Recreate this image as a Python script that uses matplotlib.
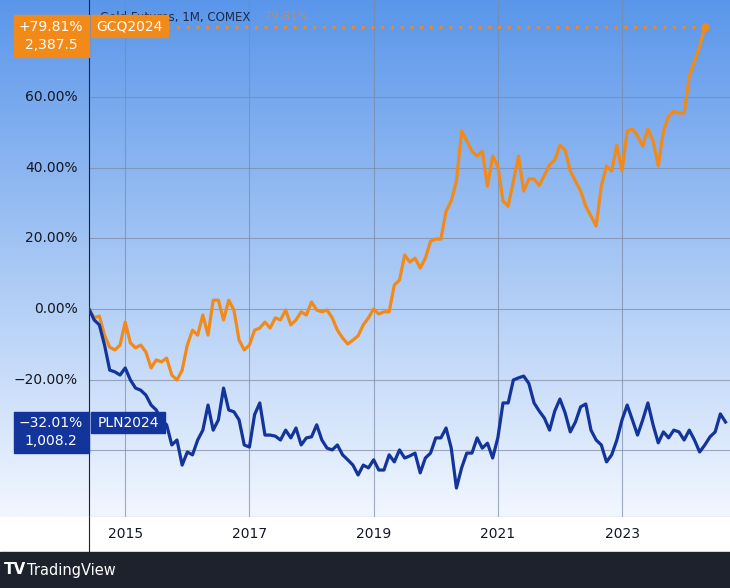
import numpy as np
import matplotlib
matplotlib.use("Agg")
import matplotlib.pyplot as plt
from matplotlib.patches import Rectangle

W, H = 730, 588
# monthly values, Jun 2014 .. Jun 2024 (percent change)
gold_pct = [0.0, -2.5, -2.0, -7.4, -10.8, -11.6, -10.2, -3.7, -9.6, -11.0, -10.2, -12.2,
            -16.7, -14.4, -15.0, -13.9, -18.7, -20.1, -17.3, -10.2, -6.0, -7.4, -1.7, -7.4,
            2.5, 2.5, -3.1, 2.5, -0.3, -8.8, -11.6, -10.2, -6.0, -5.4, -3.7, -5.4, -2.5,
            -3.1, -0.3, -4.5, -3.1, -0.8, -1.7, 2.0, -0.3, -0.8, -0.3, -2.5, -6.0, -8.2,
            -9.9, -8.8, -7.6, -4.5, -2.5, 0.0, -1.4, -0.8, -0.8, 6.8, 8.2, 15.3, 13.3, 14.4,
            11.6, 14.4, 19.2, 19.8, 19.8, 27.7, 30.6, 36.2, 50.4, 47.6, 44.7, 43.3, 44.7,
            34.8, 43.3, 40.5, 30.6, 29.1, 36.2, 43.3, 33.4, 36.8, 36.8, 35.0, 37.9, 40.8,
            42.2, 46.4, 45.0, 39.1, 36.2, 33.4, 29.1, 26.3, 23.5, 34.8, 40.5, 39.1, 46.4,
            39.1, 50.4, 51.0, 49.0, 46.1, 51.0, 47.6, 40.5, 50.4, 54.6, 56.0, 55.5, 55.5,
            66.0, 70.2, 74.4, 79.81]
pln_pct = [0.0, -3.1, -4.5, -10.2, -17.3, -17.8, -18.7, -16.7, -20.1, -22.4, -23.0, -24.4,
           -27.2, -28.6, -31.4, -32.8, -38.5, -37.1, -44.2, -40.5, -41.3, -37.1, -34.3,
           -27.2, -34.3, -31.4, -22.4, -28.6, -29.1, -31.4, -38.5, -39.1, -29.9, -26.6,
           -35.7, -35.7, -36.0, -37.1, -34.3, -36.5, -33.7, -38.5, -36.5, -36.2, -32.8,
           -37.1, -39.4, -39.9, -38.5, -41.3, -42.7, -44.2, -47.0, -44.2, -45.0, -42.7,
           -45.6, -45.6, -41.3, -43.3, -39.9, -42.2, -41.6, -40.8, -46.4, -42.2, -40.8,
           -36.5, -36.5, -33.7, -39.4, -50.7, -45.0, -40.8, -40.8, -36.5, -39.4, -38.0,
           -42.2, -36.5, -26.6, -26.6, -20.1, -19.5, -19.0, -21.1, -26.6, -28.9, -30.9,
           -34.3, -28.9, -25.5, -29.4, -34.8, -32.0, -27.7, -26.9, -34.3, -37.1, -38.5,
           -43.3, -41.3, -37.1, -31.4, -27.2, -31.4, -35.7, -31.4, -26.6, -32.8, -37.9,
           -34.8, -36.5, -34.3, -34.8, -37.1, -34.3, -37.1, -40.5, -38.5, -36.2, -34.8,
           -29.7, -32.01]
years = ["2015", "2017", "2019", "2021", "2023"]
year_idx = [7, 31, 55, 79, 103]
yticks = [60, 40, 20, 0, -20, -40]

fig = plt.figure(figsize=(W/100, H/100), dpi=100)
# background gradient
bg = fig.add_axes([0, 71/H, 1, 517/H])
grad = np.linspace(0, 1, 256).reshape(-1, 1)
from matplotlib.colors import LinearSegmentedColormap
cmap = LinearSegmentedColormap.from_list("g", ["#5a96ea", "#f2f7ff"])
bg.imshow(grad, aspect="auto", cmap=cmap, extent=[0, 1, 0, 1], origin="upper")
bg.set_axis_off()

ax = fig.add_axes([89/W, 71/H, 641/W, 517/H])
ax.patch.set_alpha(0)
ax.set_xlim(0, 120 * 641/621)
ax.set_ylim(-58.9, 87.5)
x = np.arange(len(gold_pct))
ax.plot(x, gold_pct, color="#f28a1a", lw=2.3, zorder=3)
ax.plot(np.arange(len(pln_pct)), pln_pct, color="#13349a", lw=2.3, zorder=3)
for yv in yticks:
    ax.axhline(yv, color="#7d8aa6", lw=0.8, alpha=0.7, zorder=1)
for xi in year_idx:
    ax.axvline(xi, color="#7d8aa6", lw=0.8, alpha=0.7, zorder=1)
ax.plot([15, len(gold_pct)-1], [gold_pct[-1]]*2, color="#f28a1a", lw=2, ls=(0, (1, 2.5)), zorder=2)
ax.plot([len(gold_pct)-1], [gold_pct[-1]], "o", color="#f28a1a", ms=5, zorder=4)
ax.set_xticks([]); ax.set_yticks([])
for s in ["top", "right"]:
    ax.spines[s].set_visible(False)
ax.spines["left"].set_color("#222"); ax.spines["bottom"].set_color("#222")

# y tick labels in left panel
def ypix(v):
    return 309 - v * 3.533
for v in yticks:
    fig.text(78/W, 1 - ypix(v)/H, f"{v:.2f}%".replace("-", "−"), ha="right", va="center",
             fontsize=10, color="#131722", family="DejaVu Sans")

# time axis
fig.patches.append(Rectangle((89/W, 36/H), 641/W, 35/H, transform=fig.transFigure, color="white", zorder=0))
fig.patches.append(Rectangle((0, 36/H), 89/W, 35/H, transform=fig.transFigure, color="white", zorder=0))
for yr, xi in zip(years, year_idx):
    fig.text((89 + xi*621/120)/W, 1 - 534/H, yr, ha="center", va="center", fontsize=10, color="#131722")
fig.add_artist(plt.Line2D([89/W, 89/W], [36/H, 71/H], color="#222", lw=0.8))
# bottom bar
fig.patches.append(Rectangle((0, 0), 1, 36/H, transform=fig.transFigure, color="#1e222d", zorder=0))
fig.text(4/W, 18/H, "TV", ha="left", va="center", fontsize=11, color="white", weight="bold")
fig.text(27/W, 18/H, "TradingView", ha="left", va="center", fontsize=10.5, color="white")

def box(x0, y0, w, h, col):
    fig.patches.append(Rectangle((x0/W, 1-(y0+h)/H), w/W, h/H, transform=fig.transFigure, color=col, zorder=5))

fig.text(100/W, 1 - 17/H, "Gold Futures, 1M, COMEX", fontsize=8.5, color="#1e2a48", va="center", zorder=4)
fig.text(264/W, 1 - 17/H, "79.81%", fontsize=8.5, color="#f28a1a", alpha=0.5, va="center", zorder=4)
box(14, 15, 75, 42, "#f28a1a"); box(91, 15, 77, 22, "#f28a1a")
fig.text(51/W, 1 - 27/H, "+79.81%", ha="center", va="center", fontsize=10, color="white", zorder=6)
fig.text(51/W, 1 - 45/H, "2,387.5", ha="center", va="center", fontsize=10, color="white", zorder=6)
fig.text(129/W, 1 - 26/H, "GCQ2024", ha="center", va="center", fontsize=10, color="white", zorder=6)
box(14, 412, 75, 41, "#13349a"); box(91, 412, 74, 21, "#13349a")
fig.text(51/W, 1 - 423/H, "−32.01%", ha="center", va="center", fontsize=10, color="white", zorder=6)
fig.text(51/W, 1 - 441/H, "1,008.2", ha="center", va="center", fontsize=10, color="white", zorder=6)
fig.text(128/W, 1 - 423/H, "PLN2024", ha="center", va="center", fontsize=10, color="white", zorder=6)

fig.savefig("out.png", dpi=100)
